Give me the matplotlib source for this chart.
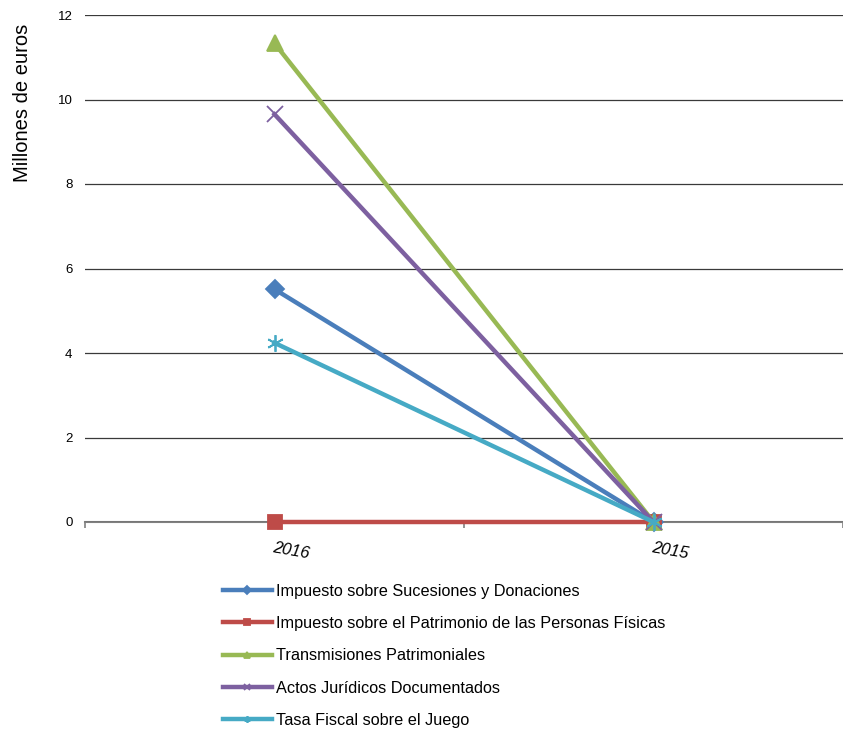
import matplotlib.pyplot as plt
from matplotlib.ticker import FixedLocator

plt.rcParams['font.family'] = ['Liberation Sans', 'DejaVu Sans']

years = ["2016", "2015"]
sucesiones = [5.51, 0.0]
patrimonio = [0.0, 0.0]
transmisiones = [11.33, 0.0]
actos = [9.65, 0.0]
tasa_juego = [4.24, 0.0]

series = [
    ("Impuesto sobre Sucesiones y Donaciones", sucesiones, "#4A7EBB", "D", 9),
    ("Impuesto sobre el Patrimonio de las Personas Físicas", patrimonio, "#BE4B48", "s", 10),
    ("Transmisiones Patrimoniales", transmisiones, "#98B954", "^", 12),
    ("Actos Jurídicos Documentados", actos, "#7D60A0", "x", 11),
    ("Tasa Fiscal sobre el Juego", tasa_juego, "#46AAC5", (6, 2, 0), 12),
]

fig = plt.figure(figsize=(8.43, 7.36), dpi=100)
ax = fig.add_axes([85 / 843, 1 - 522 / 736, 758 / 843, (522 - 15) / 736])

x = list(range(len(years)))
handles = []
for label, vals, color, marker, ms in series:
    line, = ax.plot(x, vals, color=color, lw=3.2, marker=marker, markersize=ms,
                    markeredgewidth=1.3, label=label, clip_on=False)
    handles.append(line)

ax.set_xlim(-0.5, 1.5)
ax.set_ylim(0, 12)
ax.set_yticks(range(0, 13, 2))
ax.yaxis.grid(True, color="#3a3a3a", lw=0.9)
ax.set_axisbelow(True)
for side in ["left", "right", "top"]:
    ax.spines[side].set_visible(False)
ax.spines["bottom"].set_color("#808080")
ax.spines["bottom"].set_linewidth(1.5)
ax.spines["bottom"].set_zorder(0.5)

ax.tick_params(axis="y", length=0, pad=9, labelsize=9.5)
ax.set_xticks(x)
ax.set_xticklabels(years, rotation=-10, ha="left", rotation_mode="anchor",
                   fontsize=12, style="italic")
ax.tick_params(axis="x", which="major", length=0, pad=13)
ax.xaxis.set_minor_locator(FixedLocator([-0.5, 0.5, 1.5]))
ax.tick_params(axis="x", which="minor", length=4, color="#808080", width=1.2)

# y label sits near the top of the plot, not centred
fig.text(23 / 843, 1 - 103 / 736, "Millones de euros", rotation=90,
         ha="center", va="center", fontsize=14.5)

leg = fig.legend(handles=handles, loc="upper left",
                 bbox_to_anchor=(208 / 843, 1 - 569 / 736),
                 frameon=False, fontsize=11.7, handlelength=3.05,
                 handletextpad=0.25, labelspacing=1.07, markerscale=0.4)

fig.savefig("out.png", dpi=100)
